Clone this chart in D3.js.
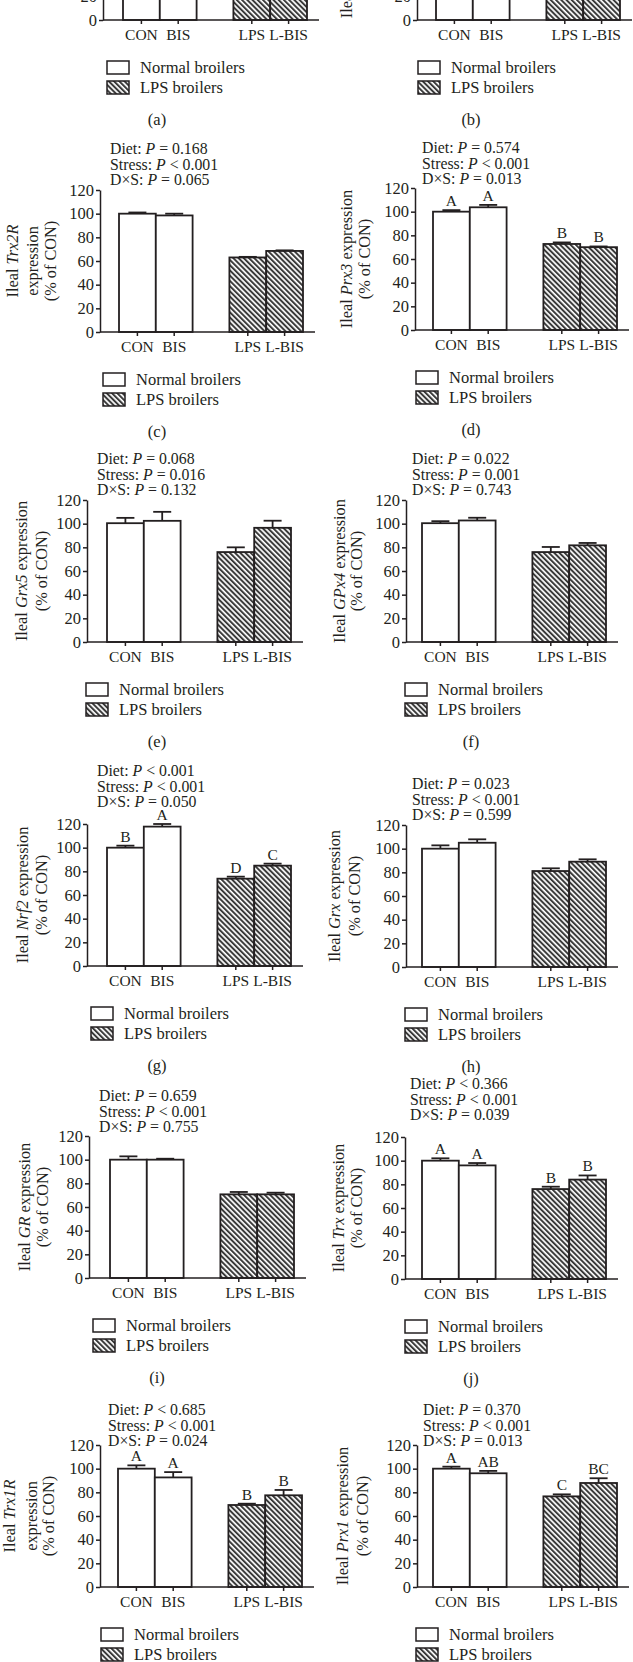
<!DOCTYPE html>
<html><head><meta charset="utf-8">
<script src="https://cdn.jsdelivr.net/npm/d3@7"></script>
<style>
body{margin:0;background:#fff}
svg{display:block}
text{font-family:"Liberation Serif","Times New Roman",serif;fill:#231f20}
</style>
</head><body>
<svg id="chart" width="633" height="1662"></svg>
<script>
// ---------- data ----------
const groups = ["CON", "BIS", "LPS", "L-BIS"];
const panelIds = ["a","b","c","d","e","f","g","h","i","j","k","l"];
const genes = ["Trx2","Prx2","Trx2R","Prx3","Grx5","GPx4","Nrf2","Grx","GR","Trx","Trx1R","Prx1"];
const yTicks = [0, 20, 40, 60, 80, 100, 120];
const legendLabels = ["Normal broilers", "LPS broilers"];

const mean_a = [100, 103, 70, 72];
const mean_b = [100, 102, 68, 75];
const mean_c = [100, 98.5, 63, 68.5];
const mean_d = [100, 103.7, 72.7, 70];
const mean_e = [100.4, 102.4, 76, 96.5];
const mean_f = [100.4, 102.7, 76, 81.7];
const mean_g = [100, 117.8, 73.8, 84.8];
const mean_h = [100, 105, 81.1, 89];
const mean_i = [100, 100, 70.7, 70.7];
const mean_j = [100, 96, 76, 84];
const mean_k = [100, 92.6, 69.3, 77.5];
const mean_l = [100, 96.1, 76.6, 87.9];

const sem_a = [1, 1, 1, 1];
const sem_b = [1, 1, 1, 1];
const sem_c = [1, 1.5, 0.5, 0.5];
const sem_d = [1.3, 2, 1.3, 0.6];
const sem_e = [4.5, 7.6, 4, 6];
const sem_f = [1.7, 2.3, 4.3, 2];
const sem_g = [1.7, 2.2, 1.7, 1.7];
const sem_h = [2.8, 2.9, 2.3, 2];
const sem_i = [2.8, 0.8, 2, 1.4];
const sem_j = [2, 2, 2, 3.5];
const sem_k = [2.8, 4.5, 1.1, 4.5];
const sem_l = [1.7, 2, 1.7, 4];

const letters_d = ["A", "A", "B", "B"];
const letters_g = ["B", "A", "D", "C"];
const letters_j = ["A", "A", "B", "B"];
const letters_k = ["A", "A", "B", "B"];
const letters_l = ["A", "AB", "C", "BC"];

// p-value strings: [Diet, Stress, DxS]
const pvals_c = ["= 0.168", "< 0.001", "= 0.065"];
const pvals_d = ["= 0.574", "< 0.001", "= 0.013"];
const pvals_e = ["= 0.068", "= 0.016", "= 0.132"];
const pvals_f = ["= 0.022", "= 0.001", "= 0.743"];
const pvals_g = ["< 0.001", "< 0.001", "= 0.050"];
const pvals_h = ["= 0.023", "< 0.001", "= 0.599"];
const pvals_i = ["= 0.659", "< 0.001", "= 0.755"];
const pvals_j = ["< 0.366", "< 0.001", "= 0.039"];
const pvals_k = ["< 0.685", "< 0.001", "= 0.024"];
const pvals_l = ["= 0.370", "< 0.001", "= 0.013"];
const pLabels = ["Diet: ", "Stress: ", "D×S: "];

// ---------- layout (positions only) ----------
const layout = [
  {ax:103, bx:123, y0:20,   legX:107, tagX:157, yl:[12,32,50], pX:110, pDy:-41},
  {ax:417, bx:436, y0:20,   legX:418, tagX:471, yl:[347,365], pX:424, pDy:-41},
  {ax:100, bx:119, y0:332,  legX:103, tagX:157, yl:[13,33,51], pX:110, pDy:-41},
  {ax:415, bx:433, y0:330,  legX:416, tagX:471, yl:[347,365], pX:422, pDy:-40},
  {ax:87,  bx:107, y0:642,  legX:86,  tagX:157, yl:[22,42], pX:97,  pDy:-41},
  {ax:406, bx:422, y0:642,  legX:405, tagX:471, yl:[340,357], pX:412, pDy:-41},
  {ax:87,  bx:107, y0:966,  legX:91,  tagX:157, yl:[23,42], pX:97,  pDy:-53},
  {ax:406, bx:422, y0:967,  legX:405, tagX:471, yl:[335,355], pX:412, pDy:-41},
  {ax:89,  bx:110, y0:1278, legX:93,  tagX:157, yl:[25,43], pX:99,  pDy:-40},
  {ax:405, bx:422, y0:1279, legX:405, tagX:471, yl:[339,357], pX:410, pDy:-53},
  {ax:100, bx:118, y0:1587, legX:101, tagX:157, yl:[10,32,49], pX:108, pDy:-35},
  {ax:417, bx:433, y0:1587, legX:416, tagX:471, yl:[343,363], pX:423, pDy:-35}
];
const means = [mean_a,mean_b,mean_c,mean_d,mean_e,mean_f,mean_g,mean_h,mean_i,mean_j,mean_k,mean_l];
const sems = [sem_a,sem_b,sem_c,sem_d,sem_e,sem_f,sem_g,sem_h,sem_i,sem_j,sem_k,sem_l];
const letters = [null,null,null,letters_d,null,null,letters_g,null,null,letters_j,letters_k,letters_l];
const pvals = [null,null,pvals_c,pvals_d,pvals_e,pvals_f,pvals_g,pvals_h,pvals_i,pvals_j,pvals_k,pvals_l];

const INK = "#231f20";
const PLOT_H = 142, SLOT_W = 36.8;
const FS_TICK = 16.5, FS_X = 15.5, FS_P = 15.8, FS_LET = 15.5, FS_LAB = 16.3, FS_LEG = 16.5;
const FONT = '"Liberation Serif","Times New Roman",serif';

const svg = d3.select("#chart");
const defs = svg.append("defs");
const pat = defs.append("pattern").attr("id","hatch")
  .attr("patternUnits","userSpaceOnUse").attr("width",3.7).attr("height",10)
  .attr("patternTransform","rotate(-45)");
pat.append("rect").attr("width",3.7).attr("height",10).attr("fill","#fff");
pat.append("rect").attr("width",2.0).attr("height",10).attr("fill","#3a3a3a");

const slots = ["CON","BIS","_gap","LPS","L-BIS"];

panelIds.forEach((pid, k) => {
  const L = layout[k];
  const g = svg.append("g").attr("class","panel-"+pid);
  const y = d3.scaleLinear().domain([0,120]).range([L.y0, L.y0 - PLOT_H]);
  const x = d3.scaleBand().domain(slots).range([L.bx, L.bx + SLOT_W*5]).padding(0);
  const data = groups.map((grp,i) => ({grp, v: means[k][i], e: sems[k][i], lps: i >= 2,
                                       letter: letters[k] ? letters[k][i] : null}));

  // bars
  g.selectAll("rect.bar").data(data).enter().append("rect")
    .attr("class","bar")
    .attr("x", d => x(d.grp)).attr("width", x.bandwidth())
    .attr("y", d => y(d.v)).attr("height", d => y(0) - y(d.v))
    .attr("fill", d => d.lps ? "url(#hatch)" : "#fff")
    .attr("stroke", INK).attr("stroke-width", 1.8);

  // error bars
  const eb = g.selectAll("g.err").data(data).enter().append("g").attr("class","err")
    .attr("stroke", INK).attr("stroke-width", 1.8);
  eb.append("line")
    .attr("x1", d => x(d.grp) + x.bandwidth()/2).attr("x2", d => x(d.grp) + x.bandwidth()/2)
    .attr("y1", d => y(d.v)).attr("y2", d => y(d.v + d.e));
  eb.append("line")
    .attr("x1", d => x(d.grp) + x.bandwidth()/2 - 9).attr("x2", d => x(d.grp) + x.bandwidth()/2 + 9)
    .attr("y1", d => y(d.v + d.e)).attr("y2", d => y(d.v + d.e));

  // letters
  g.selectAll("text.letter").data(data.filter(d => d.letter)).enter().append("text")
    .attr("class","letter")
    .attr("x", d => x(d.grp) + x.bandwidth()/2).attr("y", d => y(d.v + d.e) - 4)
    .attr("text-anchor","middle").attr("font-size", FS_LET).text(d => d.letter);

  // y axis (only ticks that fall inside the picture)
  const visTicks = yTicks.filter(t => y(t) > -12);
  const yAxis = d3.axisLeft(y).tickValues(visTicks).tickSize(4).tickSizeOuter(0).tickPadding(2);
  const ya = g.append("g").attr("transform", `translate(${L.ax},0)`).call(yAxis);
  ya.select(".domain").attr("stroke", INK).attr("stroke-width", 1.5);
  ya.selectAll(".tick line").attr("stroke", INK).attr("stroke-width", 1.5);
  ya.selectAll(".tick text").attr("font-size", FS_TICK).attr("font-family", FONT).attr("fill", INK);

  // x axis
  const xAxis = d3.axisBottom(x).tickValues(groups).tickSize(4).tickSizeOuter(0).tickPadding(5);
  const xa = g.append("g").attr("transform", `translate(0,${L.y0})`).call(xAxis);
  xa.select(".domain").remove();
  xa.selectAll(".tick line").attr("stroke", INK).attr("stroke-width", 1.5);
  xa.selectAll(".tick text").attr("font-size", FS_X).attr("font-family", FONT).attr("fill", INK);
  g.append("line").attr("x1", L.ax).attr("x2", L.bx + SLOT_W*5 + 12)
    .attr("y1", L.y0).attr("y2", L.y0).attr("stroke", INK).attr("stroke-width", 1.5);

  // y label (skip if entirely above the picture)
  const midY = L.y0 - PLOT_H/2;
  const lines = L.yl.length === 3
    ? [["Ileal ", genes[k], ""], ["expression"], ["(% of CON)"]]
    : [["Ileal ", genes[k], " expression"], ["(% of CON)"]];
  lines.forEach((parts, li) => {
    const t = g.append("text")
      .attr("transform", `translate(${L.yl[li]},${midY}) rotate(-90)`)
      .attr("text-anchor","middle").attr("dy","0.33em").attr("font-size", FS_LAB);
    parts.forEach((p, pi) => {
      if (!p) return;
      t.append("tspan").attr("font-style", (parts.length === 3 && pi === 1) ? "italic" : "normal").text(p);
    });
    const bb = t.node().getBBox();
    if (midY + bb.width/2 < 0) t.remove();
  });

  // p-values
  if (pvals[k]) {
    const top = L.y0 - PLOT_H;
    pvals[k].forEach((pv, li) => {
      const t = g.append("text").attr("x", L.pX).attr("y", top + L.pDy + li*15.5 + 5).attr("font-size", FS_P);
      t.append("tspan").text(pLabels[li]);
      t.append("tspan").attr("font-style","italic").text("P");
      t.append("tspan").text(" " + pv);
    });
  }

  // legend
  legendLabels.forEach((lab, li) => {
    const by = L.y0 + 41 + li*20;
    g.append("rect").attr("x", L.legX).attr("y", by).attr("width", 22).attr("height", 13)
      .attr("fill", li ? "url(#hatch)" : "#fff").attr("stroke", INK).attr("stroke-width", 1.5);
    g.append("text").attr("x", L.legX + 33).attr("y", by + 6.5).attr("dy","0.33em")
      .attr("font-size", FS_LEG).text(lab);
  });

  // panel tag
  g.append("text").attr("x", L.tagX).attr("y", L.y0 + 100).attr("dy","0.33em")
    .attr("text-anchor","middle").attr("font-size", FS_LEG).text("(" + pid + ")");
});
</script>
</body></html>
